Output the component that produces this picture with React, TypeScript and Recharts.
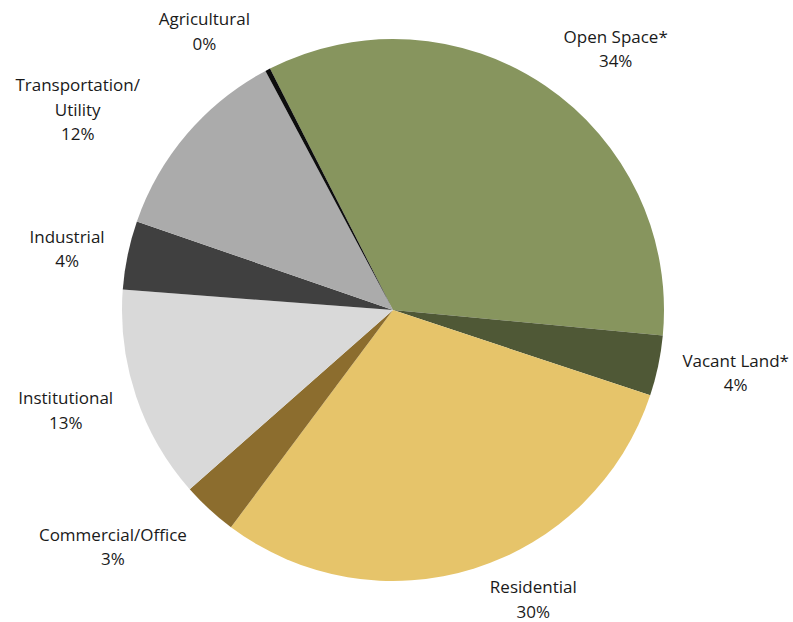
import { PieChart, Pie, Cell } from "recharts";

const categories = [
  "Open Space*",
  "Vacant Land*",
  "Residential",
  "Commercial/Office",
  "Institutional",
  "Industrial",
  "Transportation/ Utility",
  "Agricultural",
];
const shares = [34.0, 3.6, 30.1, 3.3, 12.7, 4.1, 11.9, 0.3];
const percentLabels = ["34%", "4%", "30%", "3%", "13%", "4%", "12%", "0%"];

const colors = ["#87955E", "#4F5836", "#E6C46A", "#8C6D2E", "#D9D9D9", "#404040", "#ABABAB", "#0D0D0D"];

// label line breaks, Excel style
const labelLines = [
  ["Open Space*"],
  ["Vacant Land*"],
  ["Residential"],
  ["Commercial/Office"],
  ["Institutional"],
  ["Industrial"],
  ["Transportation/", "Utility"],
  ["Agricultural"],
];

// "best fit" nudges away from the plain radial spot
const labelNudge = [
  [31, 20],
  [9, -8],
  [38, -37],
  [-49, -15],
  [-4, -9],
  [8, 7],
  [-56, 20],
  [-31, 23],
];

const data = categories.map((name, i) => ({ name, value: shares[i] }));

const RAD = Math.PI / 180;
const LINE_H = 24.5;

const renderLabel = (props: any) => {
  const { cx, cy, midAngle, outerRadius, index } = props;
  const r = outerRadius + 70;
  const x = cx + r * Math.cos(-midAngle * RAD) + labelNudge[index][0];
  const y = cy + r * Math.sin(-midAngle * RAD) + labelNudge[index][1];
  const lines = [...labelLines[index], percentLabels[index]];
  const top = y - ((lines.length - 1) * LINE_H) / 2;
  return (
    <text
      key={`lbl-${index}`}
      x={x}
      y={top}
      textAnchor="middle"
      dominantBaseline="central"
      fill="#1a1a1a"
      fontSize={17}
      fontFamily="'Open Sans', sans-serif"
    >
      {lines.map((t, i) => (
        <tspan key={i} x={x} dy={i === 0 ? 0 : LINE_H}>
          {t}
        </tspan>
      ))}
    </text>
  );
};

export default function App() {
  return (
    <div style={{ position: "absolute", left: 0, top: 0, width: 793, height: 622, background: "#fff" }}>
      <PieChart width={793} height={622} margin={{ top: 0, right: 0, bottom: 0, left: 0 }}>
        <Pie
          data={data}
          dataKey="value"
          nameKey="name"
          cx={393}
          cy={310}
          outerRadius={271}
          startAngle={117}
          endAngle={-243}
          stroke="none"
          label={renderLabel}
          labelLine={false}
          isAnimationActive={false}
        >
          {data.map((_, i) => (
            <Cell key={i} fill={colors[i]} />
          ))}
        </Pie>
      </PieChart>
    </div>
  );
}
